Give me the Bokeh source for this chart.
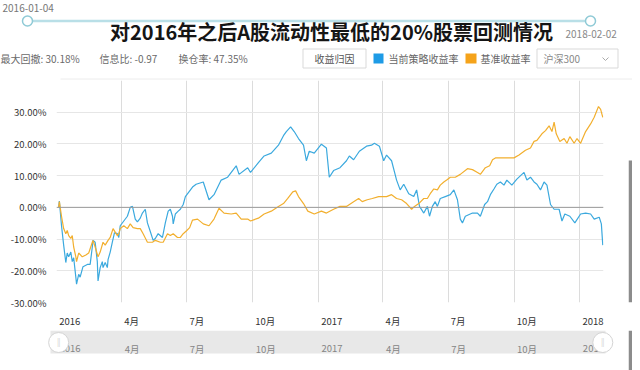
import pandas as pd
from bokeh.plotting import figure
from bokeh.models import (Range1d, FixedTicker, PrintfTickFormatter, CustomJSTickFormatter,
                          Span, ColumnDataSource)
from bokeh.layouts import column, row
from bokeh.embed import file_html
from bokeh.resources import INLINE
from bokeh.core.properties import value

# ---------------- data ----------------
strategy_dates = [
    "2016-01-04", "2016-01-05", "2016-01-08", "2016-01-11", "2016-01-14", "2016-01-16", "2016-01-18",
    "2016-01-21", "2016-01-23", "2016-01-25", "2016-01-28", "2016-01-29", "2016-02-01", "2016-02-03",
    "2016-02-07", "2016-02-13", "2016-02-17", "2016-02-20", "2016-02-21", "2016-02-24", "2016-02-27",
    "2016-02-28", "2016-03-02", "2016-03-05", "2016-03-06", "2016-03-09", "2016-03-12", "2016-03-13",
    "2016-03-16", "2016-03-19", "2016-03-22", "2016-03-26", "2016-03-28", "2016-03-30", "2016-04-04",
    "2016-04-09", "2016-04-13", "2016-04-16", "2016-04-17", "2016-04-20", "2016-04-23", "2016-04-27",
    "2016-04-30", "2016-05-04", "2016-05-07", "2016-05-11", "2016-05-15", "2016-05-18", "2016-05-22",
    "2016-05-28", "2016-06-01", "2016-06-05", "2016-06-08", "2016-06-11", "2016-06-12", "2016-06-15",
    "2016-06-19", "2016-06-22", "2016-06-26", "2016-06-29", "2016-07-04", "2016-07-09", "2016-07-14",
    "2016-07-24", "2016-08-01", "2016-08-08", "2016-08-18", "2016-08-27", "2016-09-08", "2016-09-12",
    "2016-09-24", "2016-09-28", "2016-10-09", "2016-10-17", "2016-10-27", "2016-11-06", "2016-11-13",
    "2016-11-17", "2016-11-23", "2016-11-28", "2016-12-04", "2016-12-11", "2016-12-15", "2016-12-19",
    "2016-12-26", "2017-01-05", "2017-01-12", "2017-01-16", "2017-01-22", "2017-01-31", "2017-02-09",
    "2017-02-13", "2017-02-19", "2017-02-27", "2017-03-09", "2017-03-16", "2017-03-20", "2017-03-27",
    "2017-04-02", "2017-04-06", "2017-04-13", "2017-04-20", "2017-04-25", "2017-04-30", "2017-05-07",
    "2017-05-14", "2017-05-18", "2017-05-22", "2017-05-28", "2017-06-02", "2017-06-05", "2017-06-09",
    "2017-06-13", "2017-06-16", "2017-06-20", "2017-06-27", "2017-07-04", "2017-07-09", "2017-07-14",
    "2017-07-18", "2017-07-21", "2017-07-25", "2017-08-04", "2017-08-11", "2017-08-15", "2017-08-21",
    "2017-08-25", "2017-08-29", "2017-09-03", "2017-09-07", "2017-09-12", "2017-09-17", "2017-09-21",
    "2017-09-28", "2017-10-05", "2017-10-12", "2017-10-15", "2017-10-19", "2017-10-24", "2017-10-29",
    "2017-11-02", "2017-11-07", "2017-11-12", "2017-11-16", "2017-11-21", "2017-11-26", "2017-12-03",
    "2017-12-07", "2017-12-11", "2017-12-18", "2017-12-25", "2018-01-02", "2018-01-09", "2018-01-16",
    "2018-01-21", "2018-01-28", "2018-01-31", "2018-02-02",
]
strategy_returns = [
    0.0, 2.0, -5.8, -11.9, -17.4, -14.4, -15.6,
    -14.1, -17.1, -15.9, -22.0, -24.2, -21.1, -22.0,
    -18.7, -18.0, -18.0, -12.5, -10.4, -11.0, -17.1,
    -23.2, -19.0, -17.1, -19.0, -17.4, -19.0, -16.5,
    -14.1, -11.0, -8.0, -8.3, -9.5, -5.8, -4.3,
    -2.8, 0.0, 0.3, -0.6, -3.7, -4.6, -3.4,
    -1.8, -0.6, -4.9, -7.6, -10.4, -9.8, -8.3,
    -9.5, -4.9, -1.2, -0.6, -2.8, -5.2, -2.1,
    -1.2, -0.6, 0.9, 3.4, 4.9, 6.4, 7.3,
    8.0, 2.4, 4.0, 8.6, 9.5, 13.1, 10.4,
    12.5, 11.0, 14.1, 16.2, 17.1, 19.6, 22.6,
    23.9, 25.4, 23.9, 21.7, 19.6, 14.7, 17.7,
    17.1, 19.9, 18.7, 9.5, 11.6, 12.5, 14.7,
    16.2, 15.0, 17.7, 19.3, 19.6, 20.2, 19.3,
    14.7, 16.5, 14.7, 8.6, 5.5, 7.3, 4.3,
    3.4, 5.5, 0.3, -1.8, 0.3, -2.8, 0.3,
    1.8, 0.3, 2.8, 3.4, 4.0, 5.5, 2.4,
    -3.7, -4.9, -2.8, -1.8, -1.8, -2.8, 0.9,
    1.8, 4.0, 5.8, 7.3, 8.0, 7.0, 8.6,
    7.0, 8.9, 10.4, 11.0, 8.6, 9.5, 8.0,
    7.3, 5.5, 8.0, 7.0, 0.9, -0.6, -0.6,
    -4.3, -2.1, -2.8, -4.9, -2.1, -1.8, -2.1,
    -3.7, -3.1, -5.2, -11.9,
]
benchmark_dates = [
    "2016-01-04", "2016-01-05", "2016-01-08", "2016-01-11", "2016-01-14", "2016-01-16", "2016-01-18",
    "2016-01-21", "2016-01-23", "2016-01-25", "2016-01-28", "2016-01-29", "2016-02-01", "2016-02-06",
    "2016-02-11", "2016-02-15", "2016-02-20", "2016-02-21", "2016-02-24", "2016-02-28", "2016-03-02",
    "2016-03-06", "2016-03-09", "2016-03-13", "2016-03-16", "2016-03-20", "2016-03-26", "2016-03-28",
    "2016-03-30", "2016-04-04", "2016-04-09", "2016-04-13", "2016-04-17", "2016-04-23", "2016-04-27",
    "2016-05-01", "2016-05-07", "2016-05-14", "2016-05-18", "2016-05-25", "2016-05-29", "2016-06-04",
    "2016-06-08", "2016-06-12", "2016-06-18", "2016-06-22", "2016-06-26", "2016-07-01", "2016-07-05",
    "2016-07-09", "2016-07-16", "2016-07-24", "2016-08-01", "2016-08-08", "2016-08-15", "2016-08-22",
    "2016-09-01", "2016-09-08", "2016-09-15", "2016-09-24", "2016-09-28", "2016-10-09", "2016-10-17",
    "2016-10-27", "2016-11-06", "2016-11-13", "2016-11-19", "2016-11-26", "2016-11-30", "2016-12-04",
    "2016-12-11", "2016-12-17", "2016-12-26", "2017-01-05", "2017-01-12", "2017-01-22", "2017-01-31",
    "2017-02-09", "2017-02-19", "2017-02-26", "2017-03-03", "2017-03-10", "2017-03-17", "2017-03-26",
    "2017-04-06", "2017-04-13", "2017-04-20", "2017-04-27", "2017-05-04", "2017-05-11", "2017-05-15",
    "2017-05-21", "2017-05-28", "2017-06-02", "2017-06-06", "2017-06-11", "2017-06-16", "2017-06-20",
    "2017-06-25", "2017-06-29", "2017-07-04", "2017-07-11", "2017-07-18", "2017-07-28", "2017-08-04",
    "2017-08-11", "2017-08-15", "2017-08-22", "2017-08-28", "2017-09-01", "2017-09-05", "2017-09-12",
    "2017-09-21", "2017-10-01", "2017-10-08", "2017-10-17", "2017-10-24", "2017-10-29", "2017-11-02",
    "2017-11-09", "2017-11-14", "2017-11-19", "2017-11-23", "2017-11-26", "2017-11-29", "2017-12-04",
    "2017-12-10", "2017-12-14", "2017-12-18", "2017-12-24", "2017-12-28", "2018-01-02", "2018-01-09",
    "2018-01-16", "2018-01-21", "2018-01-27", "2018-01-30", "2018-02-02",
]
benchmark_returns = [
    0.0, 1.8, -2.8, -6.7, -8.3, -7.3, -8.9,
    -9.8, -8.9, -12.5, -15.6, -17.1, -14.4, -15.6,
    -15.0, -14.4, -11.0, -10.4, -12.5, -15.6, -14.1,
    -11.0, -11.9, -10.4, -9.5, -6.7, -8.9, -8.3,
    -6.7, -5.8, -6.7, -5.2, -6.4, -6.7, -6.7,
    -8.3, -11.0, -11.0, -10.4, -11.0, -11.0, -8.3,
    -8.9, -8.3, -9.5, -9.5, -8.3, -7.3, -6.4,
    -4.0, -3.7, -5.2, -5.8, -3.7, -0.3, -1.8,
    -2.1, -1.8, -3.7, -3.7, -4.3, -3.4, -2.1,
    -1.2, 0.3, 1.2, 2.8, 4.9, 5.2, 3.4,
    1.2, -1.2, -2.1, -1.2, -1.8, -0.6, 0.3,
    0.3, 1.8, 2.8, 1.8, 2.4, 2.8, 3.4,
    3.4, 4.0, 2.8, 2.4, 1.2, -0.6, 0.3,
    1.2, 2.8, 2.8, 4.3, 5.8, 5.5, 7.0,
    8.0, 8.6, 9.5, 9.5, 10.4, 12.2, 11.9,
    11.0, 10.4, 12.5, 13.1, 15.0, 15.6, 15.6,
    15.6, 15.6, 16.5, 18.0, 18.7, 20.8, 21.1,
    23.2, 24.2, 25.7, 23.9, 26.9, 23.2, 20.8,
    21.7, 20.2, 22.3, 20.2, 21.7, 20.2, 23.9,
    26.3, 28.4, 31.8, 30.9, 28.4,
]
y_ticks = [-30, -20, -10, 0, 10, 20, 30]
x_tick_dates = ["2016-01-01", "2016-04-01", "2016-07-01", "2016-10-01", "2017-01-01",
                "2017-04-01", "2017-07-01", "2017-10-01", "2018-01-01"]
title_text = "对2016年之后A股流动性最低的20%股票回测情况"
stats_labels = ["最大回撤: 30.18%", "信息比: -0.97", "换仓率: 47.35%"]
legend_labels = ["当前策略收益率", "基准收益率"]
button_label = "收益归因"
dropdown_label = "沪深300"
range_start_label = "2016-01-04"
range_end_label = "2018-02-02"

BLUE = "#3ba9de"
ORANGE = "#f2af2e"
LEG_BLUE = "#1e9be6"
LEG_ORANGE = "#f5a31a"
FONT = "Noto Sans CJK SC"

# ---------------- geometry ----------------
W_MAIN = 628
BORDER_L, BORDER_R = 56, 25

def ms(d):
    return pd.Timestamp(d).value // 10**6

x_tick_ms = [ms(d) for d in x_tick_dates]
x_start, x_end = ms("2016-01-01"), ms("2018-02-03")
x_range = Range1d(start=x_start, end=x_end)

# ---------------- header ----------------
h = figure(width=632, height=80, x_range=Range1d(0, 632), y_range=Range1d(80, 0),
           min_border=0, x_axis_location=None, y_axis_location=None,
           output_backend="svg", toolbar_location=None)
h.grid.visible = False
h.outline_line_color = None

h.line([27, 590], [20.5, 20.5], line_color="#b9dfe7", line_width=2.5)
h.scatter([27, 590], [20.5, 20.5], size=10, fill_color="white", line_color="#8fcad6", line_width=1.5)
h.text(x=[2], y=[7.5], text=[range_start_label], text_font=value(FONT), text_font_size="10px",
       text_color="#777777", text_baseline="middle", text_align="left")
h.text(x=[565], y=[33], text=[range_end_label], text_font=value(FONT), text_font_size="10px",
       text_color="#888888", text_baseline="middle", text_align="left")
h.text(x=[331], y=[31], text=[title_text], text_font=value(FONT), text_font_size="20px",
       text_font_style="bold", text_color="#151515", text_baseline="middle", text_align="center")
h.text(x=[0, 99, 178], y=[58, 58, 58], text=stats_labels, text_font=value(FONT),
       text_font_size="10px", text_color="#6a6a6a", text_baseline="middle", text_align="left")
# button
h.quad(left=[302.5], right=[365.5], top=[48.5], bottom=[67.5], fill_color="white",
       line_color="#d9d9d9")
h.text(x=[334], y=[58], text=[button_label], text_font=value(FONT), text_font_size="10px",
       text_color="#555555", text_baseline="middle", text_align="center")
# legend
h.quad(left=[373, 465], right=[383, 476], top=[53, 53], bottom=[63, 63],
       fill_color=[LEG_BLUE, LEG_ORANGE], line_color=None)
h.text(x=[388, 480], y=[58, 58], text=legend_labels, text_font=value(FONT), text_font_size="10px",
       text_color="#666666", text_baseline="middle", text_align="left")
# dropdown
h.quad(left=[536.5], right=[617.5], top=[48.5], bottom=[67.5], fill_color="white",
       line_color="#d9d9d9")
h.text(x=[543], y=[58], text=[dropdown_label], text_font=value(FONT), text_font_size="10px",
       text_color="#888888", text_baseline="middle", text_align="left")
h.line([602, 605, 608], [57, 60, 57], line_color="#aaaaaa", line_width=1)
h.line([60, 632], [78.5, 78.5], line_color="#ececec", line_width=1)

# ---------------- main chart ----------------
p = figure(width=W_MAIN, height=250, x_axis_type="datetime", x_range=x_range,
           y_range=Range1d(-30, 40), min_border_left=BORDER_L, min_border_right=BORDER_R,
           min_border_top=0, min_border_bottom=21,
           output_backend="svg", toolbar_location=None)
p.outline_line_color = None
p.xaxis.ticker = FixedTicker(ticks=x_tick_ms)
p.xgrid.ticker = FixedTicker(ticks=x_tick_ms)
p.yaxis.ticker = FixedTicker(ticks=y_ticks)
p.ygrid.ticker = FixedTicker(ticks=y_ticks)
p.xgrid.grid_line_color = "#dcdcdc"
p.ygrid.grid_line_color = "#e6e6e6"
for ax in (p.xaxis[0], p.yaxis[0]):
    ax.axis_line_color = None
    ax.major_tick_line_color = None
    ax.minor_tick_line_color = None
    ax.major_label_text_font = FONT
    ax.major_label_text_font_size = "9.5px"
    ax.major_label_text_color = "#333333"
p.yaxis.formatter = PrintfTickFormatter(format="%.2f%%")
p.yaxis.major_label_standoff = 4
# labels sit just right of their tick (left aligned): pad the centred label with
# invisible characters of the same widths plus one extra figure space
p.xaxis.formatter = CustomJSTickFormatter(code="""
const d = new Date(tick);
const m = d.getUTCMonth() + 1;
const s = m === 1 ? String(d.getUTCFullYear()) : m + '月';
let pad = '\\u2007';
for (const ch of s) { pad += (ch === '月') ? '\\u3000' : '\\u2007'; }
return pad + s;
""")
p.xaxis.major_label_standoff = 5

p.add_layout(Span(location=0, dimension="width", line_color="#9a9a9a", line_width=1))

s_src = ColumnDataSource(dict(x=pd.to_datetime(strategy_dates), y=strategy_returns))
b_src = ColumnDataSource(dict(x=pd.to_datetime(benchmark_dates), y=benchmark_returns))
p.line("x", "y", source=s_src, line_color=BLUE, line_width=1.2)
p.line("x", "y", source=b_src, line_color=ORANGE, line_width=1.2)

# ---------------- navigator (full-width frame, same time-to-pixel mapping) ----------------
ms_per_px = (x_end - x_start) / (W_MAIN - BORDER_L - BORDER_R)
f = figure(width=W_MAIN, height=40,
           x_range=Range1d(x_start - BORDER_L * ms_per_px, x_end + BORDER_R * ms_per_px),
           y_range=Range1d(40, 0), min_border=0, x_axis_location=None, y_axis_location=None,
           output_backend="svg", toolbar_location=None)
f.grid.visible = False
f.outline_line_color = None
f.quad(left=[x_start - 6 * ms_per_px], right=[x_end + 2 * ms_per_px], top=[0], bottom=[23],
       fill_color="#e8e8e8", line_color=None)
nav_labels = [str(pd.Timestamp(d).year) if pd.Timestamp(d).month == 1 else f"{pd.Timestamp(d).month}月"
              for d in x_tick_dates]
f.text(x=x_tick_ms, y=[18] * len(x_tick_ms), text=nav_labels, text_font=value(FONT),
       text_font_size="9.5px", text_color="#858585", text_baseline="middle", text_align="left",
       x_offset=3)
handle_x = [ms(strategy_dates[0]), ms(strategy_dates[-1])]
f.scatter(handle_x, [12, 12], size=20, fill_color="white", line_color="#d4d4d4", line_width=1)
f.text(x=handle_x, y=[12, 12], text=["‖", "‖"], text_font=value(FONT), text_font_size="9px",
       text_color="#b5b5b5", text_baseline="middle", text_align="center")

# ---------------- page scrollbar ----------------
def scroll_piece(height, top):
    s = figure(width=4, height=height, x_range=Range1d(0, 4), y_range=Range1d(height, 0),
               min_border=0, x_axis_location=None, y_axis_location=None,
               output_backend="svg", toolbar_location=None)
    s.grid.visible = False
    s.outline_line_color = None
    s.quad(left=[0], right=[4], top=[top], bottom=[height], fill_color="#8c8c8c", line_color=None)
    return s

layout = column(h, row(p, scroll_piece(250, 90)), row(f, scroll_piece(40, 0)))
open("out.html", "w").write(file_html(layout, INLINE))
